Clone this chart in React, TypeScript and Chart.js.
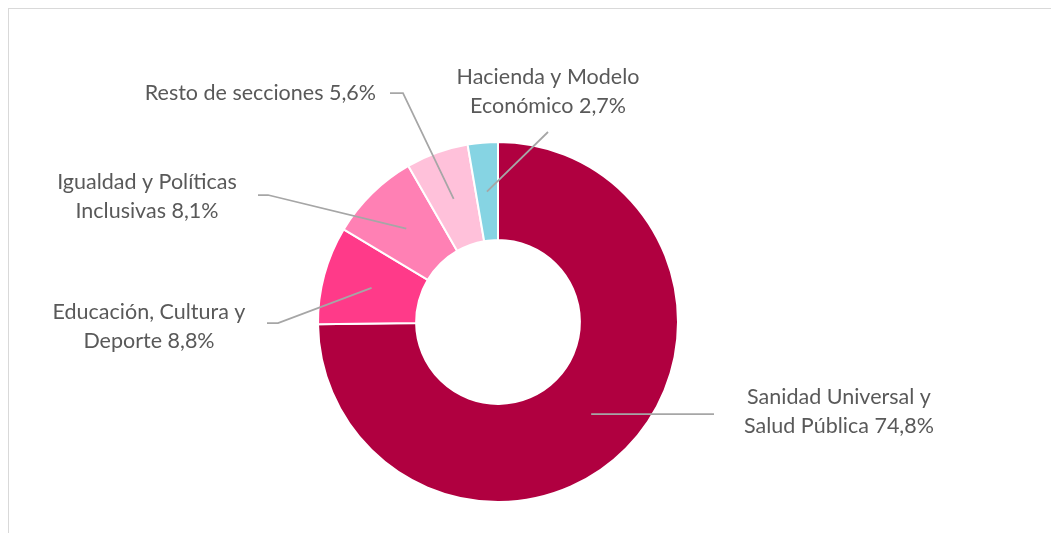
import React, { useEffect, useRef } from "react";
import { Chart, registerables } from "chart.js";

Chart.register(...registerables);

const categories = [
  "Sanidad Universal y Salud Pública",
  "Educación, Cultura y Deporte",
  "Igualdad y Políticas Inclusivas",
  "Resto de secciones",
  "Hacienda y Modelo Económico",
];
const shares = [74.8, 8.8, 8.1, 5.6, 2.7];
const colors = ["#B00040", "#FF3A89", "#FF80B4", "#FFC1DA", "#86D4E3"];
const labelLines = [
  ["Sanidad Universal y", "Salud Pública 74,8%"],
  ["Educación, Cultura y", "Deporte 8,8%"],
  ["Igualdad y Políticas", "Inclusivas 8,1%"],
  ["Resto de secciones 5,6%"],
  ["Hacienda y Modelo", "Económico 2,7%"],
];

// label placement in page coordinates (text anchor, first line centre y, leader path)
const OFFSET = 9;
const labelLayout: { x: number; y: number; align: CanvasTextAlign; path: (number | null)[][] }[] = [
  { x: 839, y: 397, align: "center", path: [[714, null]] },
  { x: 149, y: 312, align: "center", path: [[278, 323], [267, 323]] },
  { x: 147, y: 182, align: "center", path: [[268, 195], [258, 195]] },
  { x: 376, y: 93, align: "right", path: [[403, 93], [390, 93]] },
  { x: 548, y: 77, align: "center", path: [[548, 132]] },
];
const LINE_HEIGHT = 29;
const FONT = "21.5px Lato";

const labelPlugin = {
  id: "leaderLabels",
  afterDraw(chart: any) {
    const ctx = chart.ctx;
    const meta = chart.getDatasetMeta(0);
    ctx.save();
    meta.data.forEach((arc: any, i: number) => {
      const c = arc.getCenterPoint();
      const lay = labelLayout[i];
      ctx.strokeStyle = "#A6A6A6";
      ctx.lineWidth = 1.75;
      ctx.beginPath();
      ctx.moveTo(c.x, c.y);
      lay.path.forEach((p) => {
        const px = (p[0] as number) - OFFSET;
        const py = p[1] === null ? c.y : (p[1] as number) - OFFSET;
        ctx.lineTo(px, py);
      });
      ctx.stroke();
      ctx.fillStyle = "#595959";
      ctx.font = FONT;
      ctx.textAlign = lay.align;
      ctx.textBaseline = "middle";
      labelLines[i].forEach((t, j) => {
        ctx.fillText(t, lay.x - OFFSET, lay.y - OFFSET + j * LINE_HEIGHT);
      });
    });
    ctx.restore();
  },
};

export default function App() {
  const ref = useRef<HTMLCanvasElement | null>(null);
  useEffect(() => {
    if (!ref.current) return;
    const chart = new Chart(ref.current, {
      type: "doughnut",
      data: {
        labels: categories,
        datasets: [
          {
            data: shares,
            backgroundColor: colors,
            borderColor: "#FFFFFF",
            borderWidth: 2,
          },
        ],
      },
      options: {
        responsive: false,
        animation: false,
        cutout: "45.5%",
        layout: { padding: { left: 308, right: 380, top: 132, bottom: 30 } },
        plugins: {
          legend: { display: false },
          tooltip: { enabled: false },
        },
      },
      plugins: [labelPlugin],
    });
    return () => chart.destroy();
  }, []);
  return (
    <div
      style={{
        width: 1051,
        height: 525,
        boxSizing: "border-box",
        borderTop: "1px solid #D9D9D9",
        borderLeft: "1px solid #D9D9D9",
        background: "#FFFFFF",
      }}
    >
      <canvas ref={ref} width={1050} height={524} style={{ display: "block" }} />
    </div>
  );
}
